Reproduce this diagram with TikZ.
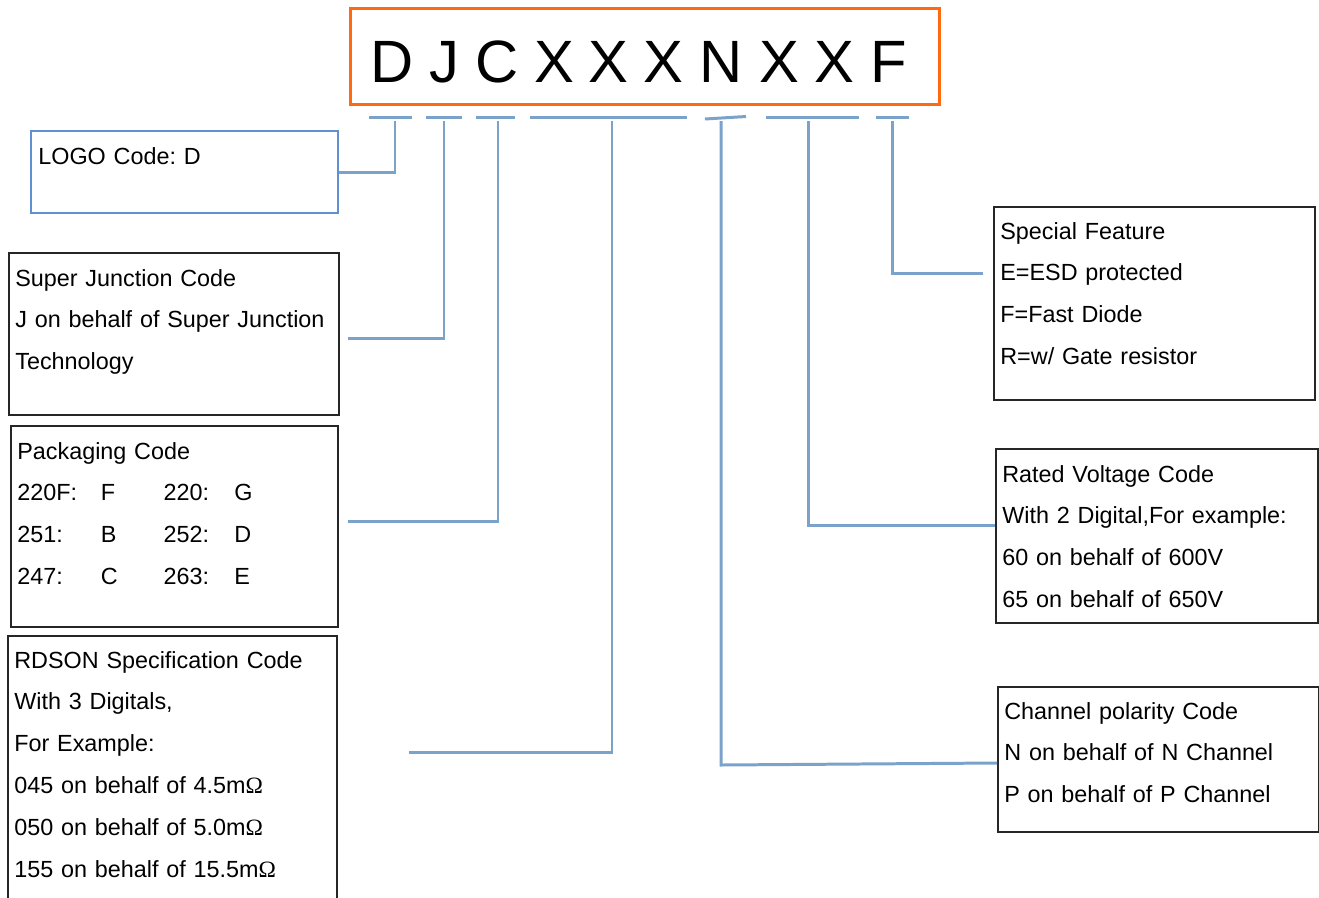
\documentclass[tikz,border=0pt]{standalone}
\usepackage{fontspec}
\setmainfont{Liberation Sans}
\newfontfamily\omfont{Liberation Serif}
\usetikzlibrary{positioning}
\definecolor{linkblue}{RGB}{122,162,202}
\definecolor{logoblue}{RGB}{95,145,210}
\definecolor{codeorange}{RGB}{255,106,16}
\tikzstyle{codebox}=[draw=black!85,line width=1pt,rectangle,anchor=north west,inner sep=0pt]
\tikzstyle{desc}=[anchor=base west,inner sep=0pt,text width=300pt,align=left,font=\fontsize{13.3}{23.8}\selectfont]
\tikzstyle{link}=[draw=linkblue,line width=1.7pt]
\tikzstyle{letter}=[font=\fontsize{34}{40}\selectfont,inner sep=0pt,anchor=base]
\newcommand\pkrow[4]{\makebox[47.6pt][l]{#1}\makebox[35.7pt][l]{#2}\makebox[40.3pt][l]{#3}#4}
\newcommand\mohm{m{\omfont Ω}}
\frenchspacing

\begin{document}
\begin{tikzpicture}[x=0.02cm,y=-0.02cm]
\useasboundingbox (0,0) rectangle (1319,897);
\node[draw=codeorange,line width=1.7pt,anchor=north west,minimum width=589*0.02cm,minimum height=96*0.02cm,inner sep=0pt] (pn) at (349,7) {};
\foreach \ch/\cx in {D/392,J/444,C/497,X/554,X/608,X/663,N/721,X/779,X/834,F/889}
  \node[letter] (l-\cx) at (\cx,82) {\ch};
\foreach \a/\b in {369/412,426/462,476/515,530/687,766/859,876/909}
  \draw[link] (\a,117) -- (\b,117);
\draw[link] (705,119) -- (746,116.5);

% left side
\node[codebox,draw=logoblue,line width=1.2pt,minimum width=307*0.02cm,minimum height=82*0.02cm] (logo) at (30,130) {};
\node[desc] (logoT) at (38,164) {LOGO Code: D};
\node[codebox,minimum width=330*0.02cm,minimum height=162*0.02cm] (sj) at (8,252) {};
\node[desc] (sjT) at (15,286) {Super Junction Code\\J on behalf of Super Junction\\Technology};
\node[codebox,minimum width=327*0.02cm,minimum height=201*0.02cm] (pack) at (10,425) {};
\node[desc] (packT) at (17,459) {Packaging Code\\\pkrow{220F:}{F}{220:}{G}\\\pkrow{251:}{B}{252:}{D}\\\pkrow{247:}{C}{263:}{E}};
\node[codebox,minimum width=329*0.02cm,minimum height=265*0.02cm] (rds) at (7,635) {};
\node[desc] (rdsT) at (14,668) {RDSON Specification Code\\With 3 Digitals,\\For Example:\\045 on behalf of 4.5\mohm\\050 on behalf of 5.0\mohm\\155 on behalf of 15.5\mohm};

% right side
\node[codebox,minimum width=321*0.02cm,minimum height=193*0.02cm] (spec) at (993,206) {};
\node[desc] (specT) at (1000,239) {Special Feature\\E=ESD protected\\F=Fast Diode\\R=w/ Gate resistor};
\node[codebox,minimum width=322*0.02cm,minimum height=174*0.02cm] (rated) at (995,448) {};
\node[desc] (ratedT) at (1002,482) {Rated Voltage Code\\With 2 Digital,For example:\\60 on behalf of 600V\\65 on behalf of 650V};
\node[codebox,minimum width=321*0.02cm,minimum height=145*0.02cm] (chan) at (997,686) {};
\node[desc] (chanT) at (1004,719) {Channel polarity Code\\N on behalf of N Channel\\P on behalf of P Channel};

% connectors
\coordinate (sD) at (395,121);
\coordinate (sJ) at (444,121);
\coordinate (sC) at (498,121);
\coordinate (sR) at (612,121);
\coordinate (sN) at (721,121);
\coordinate (sV) at (808,121);
\coordinate (sF) at (892,121);
\coordinate (eJ) at (348,338);
\coordinate (eC) at (348,521);
\coordinate (eR) at (409,752);
\coordinate (eF) at (983,273);
\coordinate (eV) at (995,525);
\coordinate (eN) at (997,763);
\draw[link] (sD) |- (logo.east);
\draw[link] (sJ) |- (eJ);
\draw[link] (sC) |- (eC);
\draw[link] (sR) |- (eR);
\draw[link] (sN) -- (721,765) -- (eN);
\draw[link] (sV) |- (eV);
\draw[link] (sF) |- (eF);
\end{tikzpicture}
\end{document}
